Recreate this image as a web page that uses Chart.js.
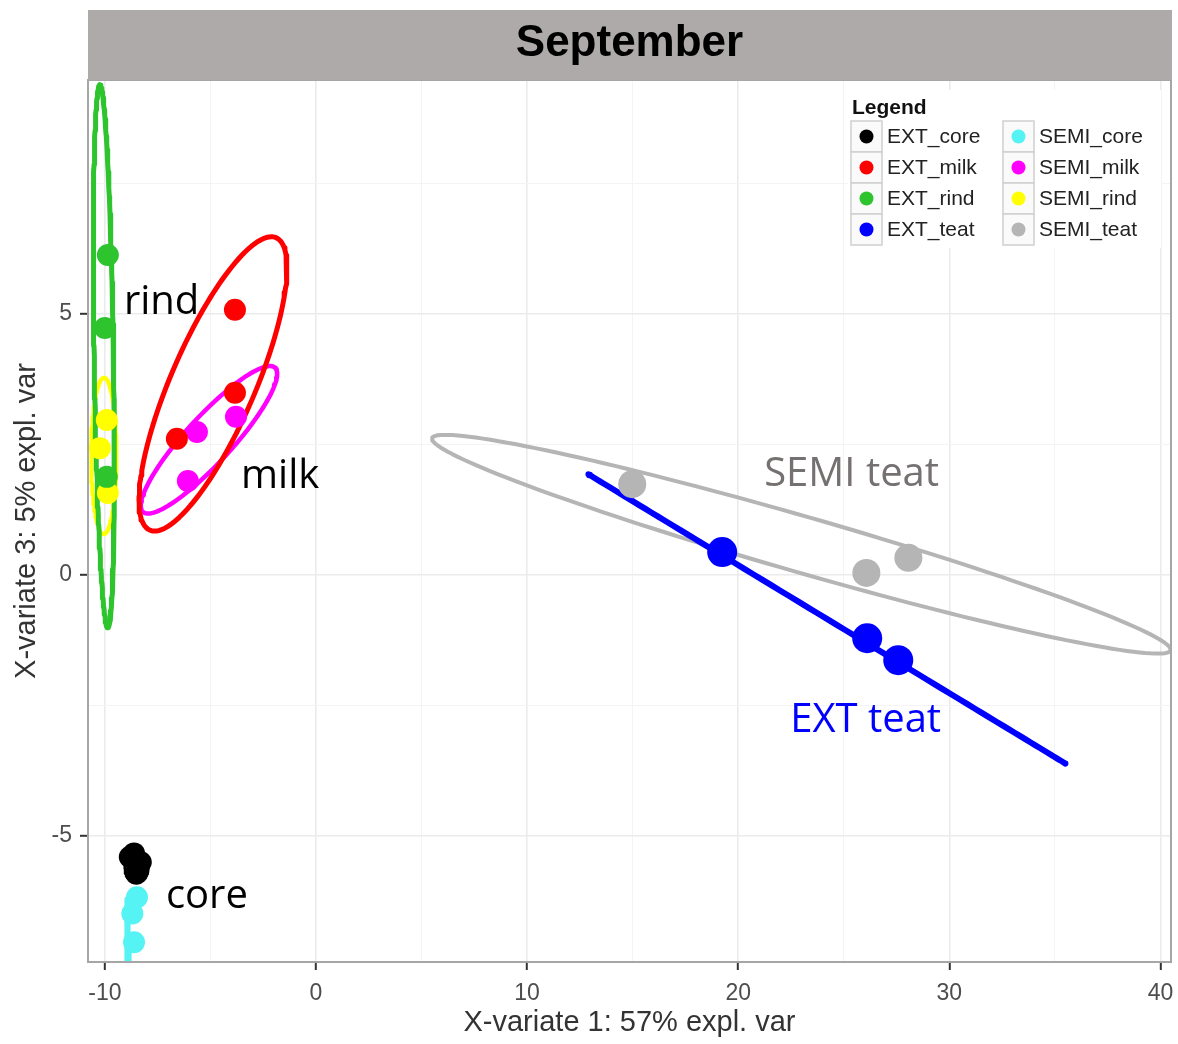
<!DOCTYPE html>
<html>
<head>
<meta charset="utf-8">
<script src="https://cdn.jsdelivr.net/npm/chart.js@4.4.1/dist/chart.umd.min.js"></script>
<style>
html, body { margin: 0; padding: 0; background: #fff; overflow: hidden; }
#wrap { width: 1178px; height: 1044px; }
canvas { display: block; }
</style>
</head>
<body>
<div id="wrap"><canvas id="chart" width="1178" height="1044"></canvas></div>
<script>
// groups, legend order
const groups = ['EXT_core', 'EXT_milk', 'EXT_rind', 'EXT_teat', 'SEMI_core', 'SEMI_milk', 'SEMI_rind', 'SEMI_teat'];

// sample scores (X-variate 1, X-variate 3), per group
const extCoreX = [-8.82, -8.62, -8.30, -8.50];
const extCoreY = [-5.40, -5.33, -5.50, -5.68];
const extMilkX = [-3.84, -3.84, -6.59];
const extMilkY = [5.08, 3.49, 2.61];
const extRindX = [-9.86, -10.0, -9.91];
const extRindY = [6.13, 4.73, 1.88];
const extTeatX = [19.24, 26.11, 27.58];
const extTeatY = [0.44, -1.21, -1.63];
const semiCoreX = [-8.48, -8.70, -8.62];
const semiCoreY = [-6.17, -6.48, -7.03];
const semiMilkX = [-5.64, -3.79, -6.07];
const semiMilkY = [2.74, 3.03, 1.80];
const semiRindX = [-9.91, -10.24, -9.86];
const semiRindY = [2.97, 2.43, 1.57];
const semiTeatX = [14.98, 26.07, 28.06];
const semiTeatY = [1.74, 0.04, 0.33];

const groupX = [extCoreX, extMilkX, extRindX, extTeatX, semiCoreX, semiMilkX, semiRindX, semiTeatX];
const groupY = [extCoreY, extMilkY, extRindY, extTeatY, semiCoreY, semiMilkY, semiRindY, semiTeatY];

// confidence ellipses: centre and two conjugate semi-axes (data units)
const ellipseCentre = [[-8.5, -5.6], [-4.88, 3.66], [-10.05, 4.19], [24.2, -0.84], [-8.9, -7.3], [-5.07, 2.59], [-10.05, 2.28], [22.99, 0.59]];
const ellipseAxisA = [[0.0, 0.3], [2.99, 2.80], [-0.19, 5.2], [11.3, -2.77], [-0.06, 1.1], [3.13, 1.38], [0.0, 1.5], [17.49, -2.03]];
const ellipseAxisB = [[0.55, 0.0], [1.83, -0.32], [0.46, 0.0], [0.0, 0.0], [0.07, 0.0], [0.80, -0.30], [0.6, 0.0], [-0.365, -0.515]];

// text labels placed on the plot
const noteText = ['rind', 'milk', 'core', 'SEMI teat', 'EXT teat'];
const noteX = [-9.10, -3.55, -7.11, 21.23, 22.46];
const noteY = [5.0, 1.67, -6.38, 1.70, -3.01];

// axes
const xTicks = [-10, -5, 0, 5, 10, 15, 20, 25, 30, 35, 40];
const yTicks = [-5, -2.5, 0, 2.5, 5, 7.5];
const xRange = [-10.8, 40.5];
const yRange = [-7.41, 9.48];

// styles
const groupColors = ['#000000', '#ff0000', '#2ec42e', '#0000ff', '#55f3f3', '#ff00ff', '#ffff00', '#b5b5b5'];
const pointSizes = [11, 11, 11, 15, 11, 11, 11, 14];
const ellipseWidths = [3, 5, 5, 6, 4, 4.5, 4, 4];
const noteColors = ['#000', '#000', '#000', '#767171', '#0000ff'];

function ellipsePoints(c, a, b) {
    const pts = [];
    for (let i = 0; i <= 160; i++) {
        const t = i / 160 * Math.PI * 2;
        pts.push({ x: c[0] + a[0] * Math.cos(t) + b[0] * Math.sin(t), y: c[1] + a[1] * Math.cos(t) + b[1] * Math.sin(t) });
    }
    return pts;
}

const datasets = [];
groups.forEach((g, i) => {
    datasets.push({
        label: g + ' ellipse',
        data: ellipsePoints(ellipseCentre[i], ellipseAxisA[i], ellipseAxisB[i]),
        showLine: true, pointRadius: 0, borderColor: groupColors[i], borderWidth: ellipseWidths[i],
        borderCapStyle: 'round', borderJoinStyle: 'round',
        fill: false, tension: 0, order: 2
    });
});
groups.forEach((g, i) => {
    datasets.push({
        label: g,
        data: groupX[i].map((x, k) => ({ x: x, y: groupY[i][k] })),
        pointRadius: pointSizes[i], pointBackgroundColor: groupColors[i], pointBorderWidth: 0,
        borderColor: groupColors[i], showLine: false, order: 1
    });
});

const sans = "'Liberation Sans', Arial, sans-serif";

const decor = {
    id: 'decor',
    beforeDraw(chart) {
        const c = chart.ctx;
        c.save();
        c.fillStyle = '#fff';
        c.fillRect(0, 0, chart.width, chart.height);
        c.restore();
    },
    afterDatasetsDraw(chart) {
        const c = chart.ctx, a = chart.chartArea;
        const xs = chart.scales.x, ys = chart.scales.y;
        c.save();

        // labels on the plot
        c.font = "40px 'Open Sans', sans-serif";
        c.textBaseline = 'alphabetic';
        c.textAlign = 'left';
        noteText.forEach((t, i) => {
            c.fillStyle = noteColors[i];
            c.fillText(t, xs.getPixelForValue(noteX[i]), ys.getPixelForValue(noteY[i]));
        });

        // panel border
        c.strokeStyle = '#a6a6a6';
        c.lineWidth = 2;
        c.strokeRect(a.left, a.top, a.right - a.left, a.bottom - a.top);

        // strip with the month
        c.fillStyle = '#aeaaaa';
        c.fillRect(a.left, 10, a.right - a.left + 1, a.top - 10);
        c.fillStyle = '#000';
        c.font = 'bold 44px ' + sans;
        c.textAlign = 'center';
        c.textBaseline = 'middle';
        c.fillText('September', (a.left + a.right) / 2, 44);

        // legend, two columns
        const lx = a.right - 323, ly = a.top + 10;
        c.fillStyle = '#fff';
        c.fillRect(lx, ly, 313, 158);
        c.fillStyle = '#111';
        c.font = 'bold 21px ' + sans;
        c.textAlign = 'left';
        c.textBaseline = 'alphabetic';
        c.fillText('Legend', lx + 4, ly + 24);
        c.font = '21px ' + sans;
        groups.forEach((g, i) => {
            const col = Math.floor(i / 4), row = i % 4;
            const kx = lx + 3 + col * 152, ky = ly + 31 + row * 31;
            c.fillStyle = '#fafafa';
            c.fillRect(kx, ky, 31, 31);
            c.strokeStyle = '#cfcfcf';
            c.lineWidth = 1.5;
            c.strokeRect(kx, ky, 31, 31);
            c.fillStyle = groupColors[i];
            c.beginPath();
            c.arc(kx + 15.5, ky + 15.5, 7, 0, Math.PI * 2);
            c.fill();
            c.fillStyle = '#222';
            c.textBaseline = 'middle';
            c.fillText(g, kx + 36, ky + 16);
        });
        c.restore();
    }
};

new Chart(document.getElementById('chart'), {
    type: 'scatter',
    data: { datasets: datasets },
    options: {
        responsive: false,
        animation: false,
        layout: { autoPadding: false, padding: { top: 80, right: 7, left: 0, bottom: 0 } },
        plugins: { legend: { display: false }, tooltip: { enabled: false } },
        scales: {
            x: {
                type: 'linear', min: xRange[0], max: xRange[1],
                afterBuildTicks: s => { s.ticks = xTicks.map(v => ({ value: v })); },
                afterFit: s => { s.height = 82; s.paddingRight = 0; s.paddingLeft = 0; },
                border: { display: false },
                grid: {
                    color: ctx => (ctx.tick && ctx.tick.value % 10 === 0) ? '#ebebeb' : '#f4f4f4',
                    lineWidth: ctx => (ctx.tick && ctx.tick.value % 10 === 0) ? 1.6 : 1,
                    tickColor: ctx => (ctx.tick && ctx.tick.value % 10 === 0) ? '#333' : 'rgba(0,0,0,0)',
                    tickWidth: 2, tickLength: 8
                },
                ticks: {
                    autoSkip: false, maxRotation: 0, padding: 10, color: '#4d4d4d',
                    font: { family: sans, size: 23 },
                    callback: v => v % 10 === 0 ? v : ''
                },
                title: { display: true, text: 'X-variate 1: 57% expl. var', color: '#333', font: { family: sans, size: 29 }, padding: { top: 0, bottom: 4 } }
            },
            y: {
                type: 'linear', min: yRange[0], max: yRange[1],
                afterBuildTicks: s => { s.ticks = yTicks.map(v => ({ value: v })); },
                afterFit: s => { s.width = 88; s.paddingTop = 0; s.paddingBottom = 0; },
                border: { display: false },
                grid: {
                    color: ctx => (ctx.tick && ctx.tick.value % 5 === 0) ? '#ebebeb' : '#f4f4f4',
                    lineWidth: ctx => (ctx.tick && ctx.tick.value % 5 === 0) ? 1.6 : 1,
                    tickColor: ctx => (ctx.tick && ctx.tick.value % 5 === 0) ? '#333' : 'rgba(0,0,0,0)',
                    tickWidth: 2, tickLength: 8
                },
                ticks: {
                    autoSkip: false, padding: 8, color: '#4d4d4d',
                    font: { family: sans, size: 23 },
                    callback: v => v % 5 === 0 ? v : ''
                },
                title: { display: true, text: 'X-variate 3: 5% expl. var', color: '#333', font: { family: sans, size: 29 }, padding: { top: 10, bottom: 0 } }
            }
        }
    },
    plugins: [decor]
});
</script>
</body>
</html>
